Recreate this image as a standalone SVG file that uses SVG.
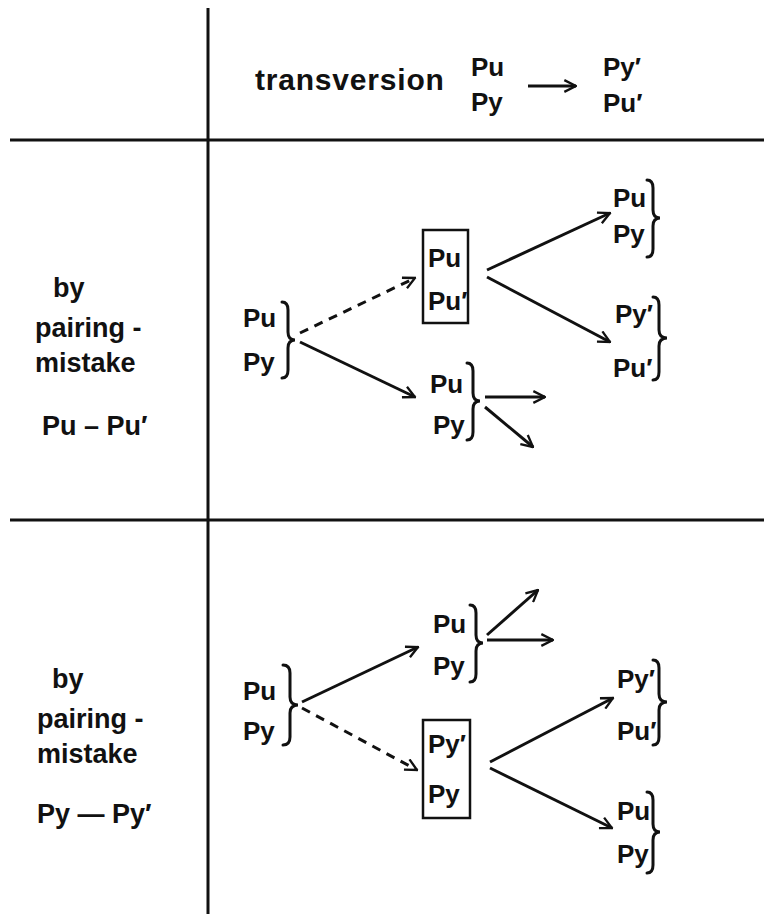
<svg xmlns="http://www.w3.org/2000/svg" width="764" height="914" viewBox="0 0 764 914">
<defs>
<style>
.t{font-family:"Liberation Sans","DejaVu Sans",sans-serif;font-weight:bold;font-size:26px;fill:#111}
.lb{font-size:27px}
.ln{stroke:#111;stroke-width:3;fill:none}
.ar{stroke:#111;stroke-width:3;fill:none;marker-end:url(#ah)}
.da{stroke-dasharray:9 7}
.br{stroke:#111;stroke-width:3;fill:none;stroke-linecap:round}
.bx{stroke:#111;stroke-width:2.5;fill:none}
</style>
<marker id="ah" viewBox="0 0 12 12" refX="11" refY="6" markerWidth="14" markerHeight="14" markerUnits="userSpaceOnUse" orient="auto">
<path d="M1,1 L11,6 L1,11" fill="none" stroke="#111" stroke-width="2"/>
</marker>
</defs>
<rect width="764" height="914" fill="#fff"/>
<g id="grid">
<line class="ln" x1="208" y1="8" x2="208" y2="914"/>
<line class="ln" x1="10" y1="140" x2="764" y2="140"/>
<line class="ln" x1="10" y1="520" x2="764" y2="520"/>
</g>
<g id="header">
<text class="t" x="255" y="90" style="font-size:30px;letter-spacing:0.8px">transversion</text>
<text class="t" x="471" y="76">Pu</text>
<text class="t" x="471" y="111">Py</text>
<text class="t" x="603" y="76">Py′</text>
<text class="t" x="603" y="112">Pu′</text>
</g>
<g id="label-mid">
<text class="t lb" x="53" y="297">by</text>
<text class="t lb" x="35" y="337">pairing -</text>
<text class="t lb" x="35" y="372">mistake</text>
<text class="t lb" x="42" y="435">Pu – Pu′</text>
</g>
<g id="label-bot">
<text class="t lb" x="52" y="688">by</text>
<text class="t lb" x="37" y="728">pairing -</text>
<text class="t lb" x="37" y="763">mistake</text>
<text class="t lb" x="37" y="823">Py — Py′</text>
</g>
<g id="m-start">
<text class="t" x="243" y="327">Pu</text>
<text class="t" x="243" y="371">Py</text>
<path class="br" d="M282,302 Q288,302 288,310 L288,332 Q288,340 295,340 Q288,340 288,348 L288,370 Q288,378 282,378"/>
</g>
<g id="m-box">
<rect class="bx" x="423" y="230" width="45" height="93"/>
<text class="t" x="428" y="267">Pu</text>
<text class="t" x="428" y="310">Pu′</text>
</g>
<g id="m-out1">
<text class="t" x="613" y="207">Pu</text>
<text class="t" x="613" y="243">Py</text>
<path class="br" d="M647,180 Q653,180 653,188 L653,210 Q653,218 660,218 Q653,218 653,226 L653,249 Q653,257 647,257"/>
</g>
<g id="m-out2">
<text class="t" x="615" y="323">Py′</text>
<text class="t" x="613" y="377">Pu′</text>
<path class="br" d="M653,297 Q659,297 659,305 L659,330 Q659,338 667,338 Q659,338 659,346 L659,372 Q659,380 653,380"/>
</g>
<g id="m-low">
<text class="t" x="430" y="393">Pu</text>
<text class="t" x="433" y="434">Py</text>
<path class="br" d="M467,363 Q473,363 473,371 L473,393 Q473,401 480,401 Q473,401 473,409 L473,432 Q473,440 467,440"/>
</g>
<g id="b-start">
<text class="t" x="243" y="700">Pu</text>
<text class="t" x="243" y="740">Py</text>
<path class="br" d="M283,665 Q290,665 290,673 L290,697 Q290,705 298,705 Q290,705 290,713 L290,737 Q290,745 283,745"/>
</g>
<g id="b-up">
<text class="t" x="433" y="633">Pu</text>
<text class="t" x="433" y="675">Py</text>
<path class="br" d="M470,605 Q476,605 476,613 L476,635 Q476,643 483,643 Q476,643 476,651 L476,674 Q476,682 470,682"/>
</g>
<g id="b-box">
<rect class="bx" x="423" y="720" width="47" height="98"/>
<text class="t" x="428" y="753">Py′</text>
<text class="t" x="428" y="803">Py</text>
</g>
<g id="b-out1">
<text class="t" x="617" y="688">Py′</text>
<text class="t" x="617" y="740">Pu′</text>
<path class="br" d="M653,660 Q659,660 659,668 L659,694 Q659,702 667,702 Q659,702 659,710 L659,737 Q659,745 653,745"/>
</g>
<g id="b-out2">
<text class="t" x="617" y="820">Pu</text>
<text class="t" x="617" y="863">Py</text>
<path class="br" d="M647,792 Q653,792 653,800 L653,824 Q653,832 660,832 Q653,832 653,840 L653,865 Q653,873 647,873"/>
</g>
<g id="connectors">
<line class="ar" x1="528" y1="86" x2="576" y2="86"/>
<line class="ar da" x1="300" y1="333" x2="415" y2="278"/>
<line class="ar" x1="300" y1="342" x2="415" y2="397"/>
<line class="ar" x1="487" y1="270" x2="610" y2="213"/>
<line class="ar" x1="487" y1="277" x2="610" y2="342"/>
<line class="ar" x1="485" y1="397" x2="545" y2="397"/>
<line class="ar" x1="485" y1="407" x2="533" y2="447"/>
<line class="ar" x1="302" y1="702" x2="418" y2="647"/>
<line class="ar da" x1="302" y1="708" x2="417" y2="770"/>
<line class="ar" x1="487" y1="635" x2="538" y2="590"/>
<line class="ar" x1="487" y1="640" x2="553" y2="640"/>
<line class="ar" x1="490" y1="762" x2="613" y2="698"/>
<line class="ar" x1="490" y1="768" x2="612" y2="828"/>
</g>
</svg>
